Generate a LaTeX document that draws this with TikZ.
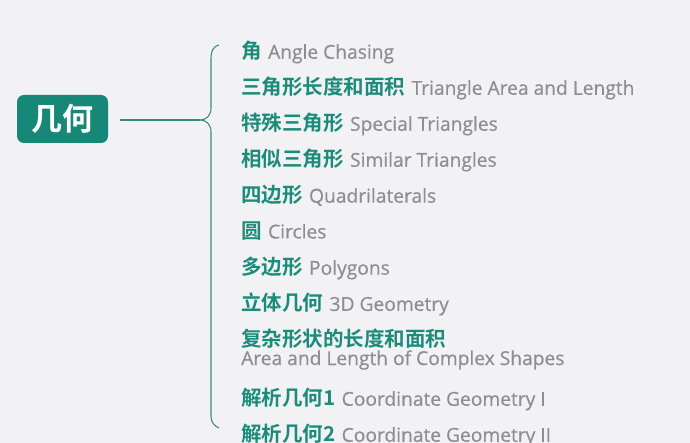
\documentclass[tikz,border=0pt]{standalone}
\usepackage{fontspec}
\newfontfamily\cjkb{Noto Sans CJK SC Bold}
\newfontfamily\enf[FakeBold=0.5]{Open Sans}
\definecolor{bg}{HTML}{F2F2F4}
\definecolor{teal}{HTML}{1B8C7B}
\definecolor{rootc}{HTML}{178878}
\definecolor{engray}{HTML}{8E8E8E}
\definecolor{linec}{HTML}{3C8C7E}
\begin{document}
\begin{tikzpicture}[x=1pt,y=-1pt,
  zh/.style={inner sep=0pt, text=teal, font=\cjkb\fontsize{20.5}{22}\selectfont},
  en/.style={inner sep=0pt, text=engray, font=\enf\fontsize{19.2}{21}\selectfont},
  rootbox/.style={fill=rootc, rounded corners=7pt, text=white, minimum width=91pt, minimum height=48pt, inner sep=0pt, font=\cjkb\fontsize{31}{32}\selectfont},
  conn/.style={draw=linec, line width=1.1pt}]
\useasboundingbox[fill=bg] (0,0) rectangle (690,443);
\node[rootbox] (root) at (62.5,119) {几何};
\coordinate (tip) at (200,120);
\draw[conn] (120,120) -- (tip);
\draw[conn] (219,45) .. controls (212,47) and (211,52) .. (211,60) -- (211,108)
  .. controls (211,116) and (206,120) .. (tip)
  .. controls (206,120) and (211,124) .. (211,132) -- (211,416)
  .. controls (211,422) and (214,426) .. (219,428);
\foreach \i/\y/\zhtext/\entext in {
  1/51/角/Angle Chasing,
  2/87/三角形长度和面积/Triangle Area and Length,
  3/123/特殊三角形/Special Triangles,
  4/159/相似三角形/Similar Triangles,
  5/195/四边形/Quadrilaterals,
  6/231/圆/Circles,
  7/267/多边形/Polygons,
  8/303/立体几何/3D Geometry,
  10/398/解析几何1/Coordinate Geometry I,
  11/434/解析几何2/Coordinate Geometry II}{
  \node[zh, anchor=west] (c\i) at (241,\y) {\zhtext};
  \node[en, anchor=base west] (e\i) at ([xshift=6pt]c\i.base east) {\entext};
}
\node[zh, anchor=west] (c9) at (241,339) {复杂形状的长度和面积};
\node[en, anchor=west] (e9) at (241,360) {Area and Length of Complex Shapes};
\end{tikzpicture}
\end{document}
